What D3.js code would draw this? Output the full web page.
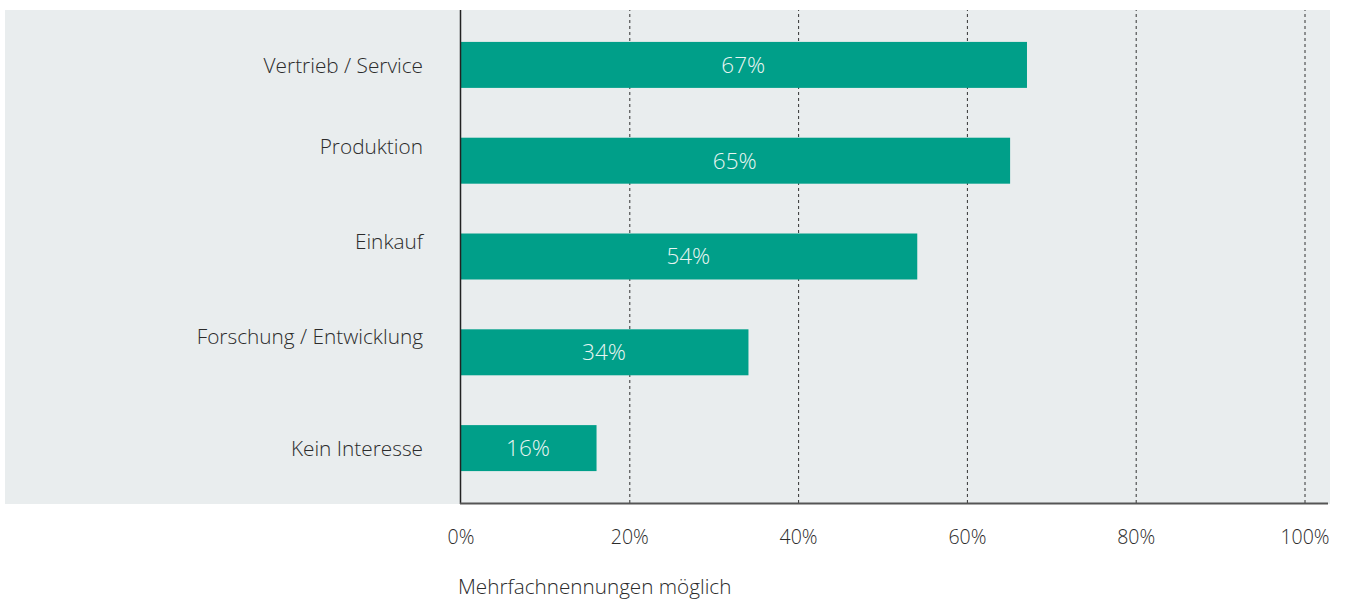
<!DOCTYPE html>
<html><head><meta charset="utf-8">
<script src="https://cdn.jsdelivr.net/npm/d3@7"></script>
<style>body{margin:0;background:#fff;} svg{display:block;}</style>
</head><body>
<svg id="c" width="1346" height="603"></svg>
<script>
const categories = ["Vertrieb / Service","Produktion","Einkauf","Forschung / Entwicklung","Kein Interesse"];
const values = [67,65,54,34,16];
const ticks = [0,20,40,60,80,100];
const note = "Mehrfachnennungen möglich";

const W=1346,H=603;
const svg=d3.select("#c");
const font="'Open Sans', 'Noto Sans', sans-serif";
const x=d3.scaleLinear().domain([0,100]).range([460.5,1304.5]);
const y=d3.scaleBand().domain(categories).range([17,496]).paddingInner(0.52).paddingOuter(0.26);
const labelNudge=[1,-14,-15,-16,1];

svg.append("rect").attr("x",5).attr("y",10).attr("width",1325).attr("height",494).attr("fill","#e9edee");

// grid
const gAxis=svg.append("g").attr("transform","translate(0,503)");
gAxis.call(d3.axisBottom(x).tickValues(ticks).tickSize(-493).tickFormat(d=>d+"%").tickPadding(27));
gAxis.select(".domain").remove();
gAxis.selectAll(".tick line").attr("stroke","#333").attr("stroke-dasharray","3,3").attr("stroke-width",1)
  .filter(d=>d===0).remove();
gAxis.selectAll(".tick text").attr("font-family",font).attr("font-size",19.5).attr("font-weight",300).attr("fill","#2b2b2b");

// bars
svg.append("g").selectAll("rect").data(categories).join("rect")
  .attr("x",x(0)).attr("y",d=>y(d)).attr("height",y.bandwidth())
  .attr("width",(d,i)=>x(values[i])-x(0)+1).attr("fill","#009f89");
svg.append("g").selectAll("text").data(categories).join("text")
  .attr("x",(d,i)=>(x(0)+x(values[i]))/2).attr("y",d=>y(d)+y.bandwidth()/2)
  .attr("dy","0.35em").attr("text-anchor","middle").attr("font-family",font)
  .attr("font-size",22.5).attr("font-weight",300).attr("fill","#e8f5f2").text((d,i)=>values[i]+"%");

// category labels
svg.append("g").selectAll("text").data(categories).join("text")
  .attr("x",423).attr("y",(d,i)=>y(d)+y.bandwidth()/2+labelNudge[i])
  .attr("dy","0.35em").attr("text-anchor","end").attr("font-family",font)
  .attr("font-size",20.8).attr("font-weight",300).attr("fill","#2b2b2b").text(d=>d);

// axes lines
svg.append("line").attr("x1",460.5).attr("x2",460.5).attr("y1",10).attr("y2",504).attr("stroke","#222").attr("stroke-width",1.5);
svg.append("line").attr("x1",460).attr("x2",1328).attr("y1",503.5).attr("y2",503.5).attr("stroke","#555").attr("stroke-width",2);

svg.append("text").attr("x",458).attr("y",594).attr("font-family",font).attr("font-size",20.7).attr("font-weight",300).attr("fill","#2b2b2b").text(note);
</script>
</body></html>
